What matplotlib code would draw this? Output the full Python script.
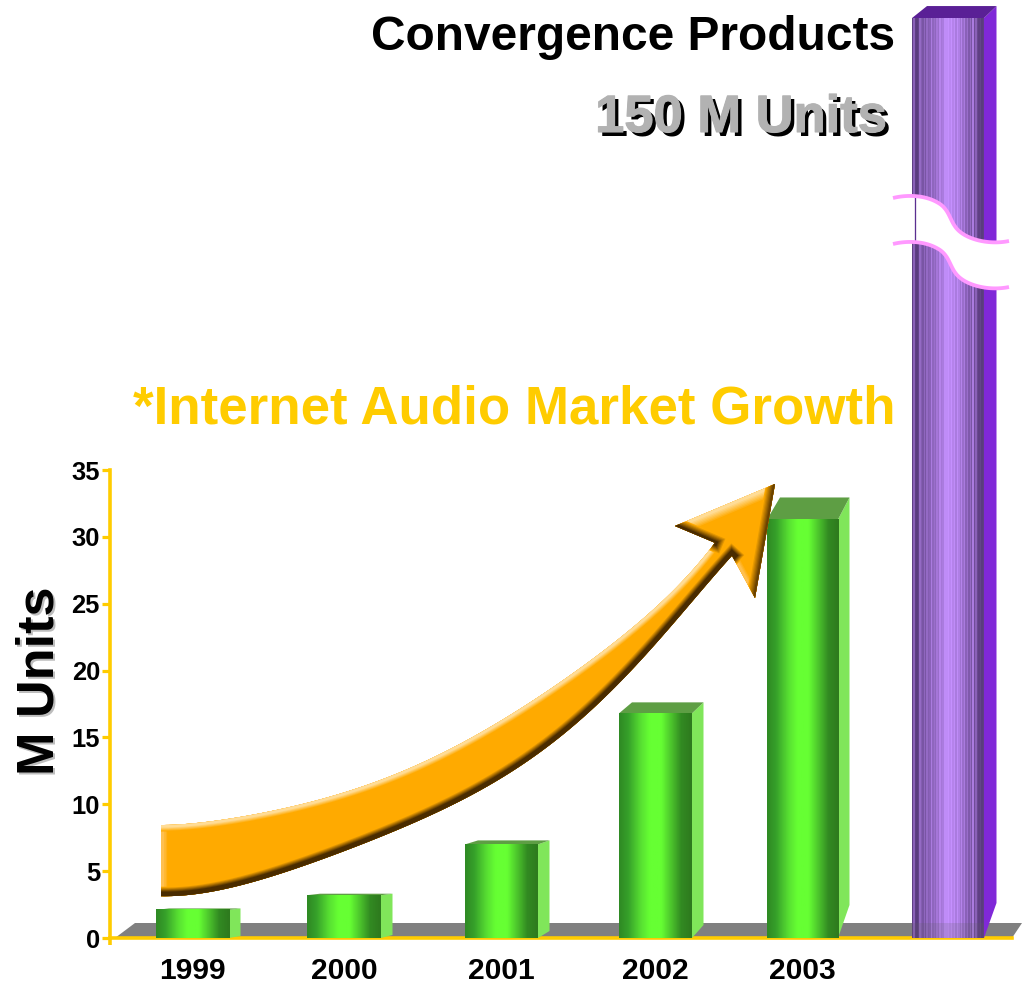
import numpy as np
import matplotlib
matplotlib.use("Agg")
import matplotlib.pyplot as plt
import matplotlib.patheffects as pe
from matplotlib.colors import LinearSegmentedColormap, to_rgb
from matplotlib.patches import Polygon
from matplotlib.lines import Line2D

plt.rcParams['font.family'] = ['Liberation Sans', 'DejaVu Sans']
plt.rcParams['font.weight'] = 'bold'

# ---- data ----
years = ['1999', '2000', '2001', '2002', '2003']
internet_audio = [2.1, 3.2, 7.0, 16.8, 31.3]
convergence_units = 150          # shown on a broken axis
convergence_break_height = 68.8  # height on the unbroken scale at which the bar top is drawn
y_ticks = [0, 5, 10, 15, 20, 25, 30, 35]

# ---- layout (pixels of the 1022x984 canvas) ----
W, H = 1022, 984
AX_L, AX_R, AX_BASE, AX_TOP = 110, 1012, 938, 470
bar_left = [156, 307, 465, 619, 767]
bar_widths = [73, 74, 73, 73, 71]
purple_left = 912
purple_width = 72
depth_rise = [1.5, 1.5, 4, 11, 22]
side_back_bottom = [936, 935, 931, 925, 905]
depth_x = 11.5

fig = plt.figure(figsize=(W / 100, H / 100), dpi=100, facecolor='white')
ax = fig.add_axes([AX_L / W, (H - AX_BASE) / H, (AX_R - AX_L) / W, (AX_BASE - AX_TOP) / H])
ax.patch.set_alpha(0)
PX_PER_UNIT = (AX_BASE - AX_TOP) / 35


def yd(py):
    return (AX_BASE - np.asarray(py, float)) / PX_PER_UNIT


def pts(seq):
    a = np.asarray(seq, float)
    return np.column_stack([a[:, 0], yd(a[:, 1])])


def px(n):
    return n * 0.72


def bez(*p):
    out = []
    p = np.asarray(p, float)
    t = np.linspace(0, 1, 30)[:, None]
    for i in range(0, len(p) - 1, 3):
        a, b, c, d = p[i:i + 4]
        out.append((1 - t) ** 3 * a + 3 * (1 - t) ** 2 * t * b + 3 * (1 - t) * t ** 2 * c + t ** 3 * d)
    return np.vstack(out)


def smooth_edge(points, deg=6):
    a = np.asarray(points, float)
    u = (a[:, 0] - a[0, 0]) / (a[-1, 0] - a[0, 0])
    coef = np.polyfit(u, a[:, 1], deg)
    uu = np.linspace(0, 1, 160)
    return np.column_stack([a[0, 0] + uu * (a[-1, 0] - a[0, 0]), np.polyval(coef, uu)])


def ramp(c_from, c_to, wmax, wmin, n):
    c0, c1 = np.array(to_rgb(c_from)), np.array(to_rgb(c_to))
    return [(tuple(c0 + (c1 - c0) * i / (n - 1)), wmax + (wmin - wmax) * i / (n - 1)) for i in range(n)]


green_cmap = LinearSegmentedColormap.from_list('g', [
    (0, '#2F8A24'), (0.12, '#36A02A'), (0.30, '#58E032'), (0.42, '#66FF33'),
    (0.58, '#66FF33'), (0.72, '#4CC42C'), (0.86, '#328A22'), (1, '#2E7A1E')])
purple_cmap = LinearSegmentedColormap.from_list('p', ['#5A3C7E', '#C590FF'])
stripes = [0.05, 0.45, 0.05, 0.0, 0.1, 0.55, 0.4, 0.3, 0.5, 0.3, 0.55, 0.4, 0.45, 0.75, 0.5, 0.6, 0.5,
           0.7, 0.6, 0.85, 0.7, 0.75, 0.95, 0.95, 0.95, 1.0, 0.9, 1.0, 0.85, 0.95, 0.75, 0.95, 0.8,
           0.65, 0.85, 0.6, 0.75, 0.45, 0.6, 0.35, 0.55, 0.3, 0.75, 0.2, 0.45, 0.15, 0.05, 0.1, 0.0, 0.05]

# floor
ax.add_patch(Polygon(pts([(115, 938), (135, 923), (1022, 923), (1012, 938)]),
                     closed=True, fc='#808080', ec='none', zorder=0.5, clip_on=False))

# green bars
for left, bw, val, rise, bk in zip(bar_left, bar_widths, internet_audio, depth_rise, side_back_bottom):
    right = left + bw
    top_px = AX_BASE - val * PX_PER_UNIT
    ax.add_patch(Polygon(pts([(right, top_px), (right + depth_x, top_px - rise),
                              (right + depth_x, bk), (right, AX_BASE)]),
                         closed=True, fc='#80E65A', ec='none', zorder=3, clip_on=False))
    ax.add_patch(Polygon(pts([(left, top_px), (left + depth_x + 1.5, top_px - rise),
                              (right + depth_x, top_px - rise), (right, top_px)]),
                         closed=True, fc='#5E9E44', ec='none', zorder=3, clip_on=False))
    ax.imshow(np.linspace(0, 1, 80)[None, :], cmap=green_cmap, aspect='auto',
              extent=(left, right, 0, val), zorder=4, clip_on=False)

# purple broken bar
p_right = purple_left + purple_width
p_top = AX_BASE - convergence_break_height * PX_PER_UNIT
ax.add_patch(Polygon(pts([(p_right, p_top), (p_right + 12.5, p_top - 12),
                          (p_right + 12.5, 903), (p_right, AX_BASE)]),
                     closed=True, fc='#8028D8', ec='none', zorder=3, clip_on=False))
ax.add_patch(Polygon(pts([(purple_left, p_top), (purple_left + 15, p_top - 12),
                          (p_right + 12.5, p_top - 12), (p_right, p_top)]),
                     closed=True, fc='#5A2096', ec='none', zorder=3, clip_on=False))
ax.imshow(np.array(stripes)[None, :], cmap=purple_cmap, vmin=0, vmax=1, aspect='auto',
          interpolation='nearest',
          extent=(purple_left, p_right, 0, convergence_break_height), zorder=4, clip_on=False)
ax.add_patch(Polygon(pts([(purple_left, 923), (p_right, 923), (p_right, 938), (purple_left, 938)]),
                     closed=True, fc='#606060', ec='none', alpha=0.18, zorder=4.2, clip_on=False))

# axis break
upper = bez((893, 198), (905, 195), (925, 194), (940, 204),
            (950, 211), (950, 222), (958, 230),
            (968, 240), (990, 245), (1009, 241))
lower = upper + np.array([0, 46])
ax.add_patch(Polygon(pts(np.vstack([upper, lower[::-1]])), closed=True, fc='white', ec='none',
                     zorder=5, clip_on=False))
for c in (upper, lower):
    d = pts(c)
    ax.plot(d[:, 0], d[:, 1], color='#FF99FF', lw=px(3.8), zorder=5.5, clip_on=False,
            solid_capstyle='butt')
ax.plot([914.5, 914.5], yd([197, 243]), color='#5A2F90', lw=px(1.3), zorder=5.2, clip_on=False)

# growth arrow
top_edge = smooth_edge([(161, 825), (185, 824), (215, 821), (270, 811), (320, 800), (370, 783),
                        (453, 749), (530, 700), (570, 677), (630, 630), (663, 600), (707, 553),
                        (715, 543)])
bottom_edge = smooth_edge([(161, 897), (175, 896), (190, 893), (230, 888), (270, 878), (310, 865),
                           (350, 847), (450, 805), (550, 749), (590, 710), (630, 667), (670, 630),
                           (697, 597), (727, 561), (732, 555)])
barb_l = (675, 526)
tip = (775, 484)
barb_r = (755, 598)
outline = np.vstack([top_edge, [barb_l, tip, barb_r], bottom_edge[::-1]])
arrow = Polygon(pts(outline), closed=True, fc='#FFAA00', ec='none', zorder=7, clip_on=False)
ax.add_patch(arrow)


def rim(points, colors_widths):
    d = pts(points)
    for col, w in colors_widths:
        ln = Line2D(d[:, 0], d[:, 1], color=col, lw=px(w), zorder=7.5,
                    solid_capstyle='projecting', solid_joinstyle='round')
        ax.add_line(ln)
        ln.set_clip_path(arrow)


ORANGE = '#FFAA00'
rim([(161, 897), (161, 825)], ramp(ORANGE, '#FFC050', 14, 6, 4))
rim(top_edge, ramp(ORANGE, '#FFDC96', 13, 5, 6))
rim([barb_l, tip], ramp(ORANGE, '#FFDC96', 22, 6, 7))
rim([(732, 555), barb_r], ramp(ORANGE, '#FFC050', 12, 5, 4))
rim([(715, 543), barb_l], ramp(ORANGE, '#4A2C00', 18, 5, 7))
rim([tip, barb_r], ramp(ORANGE, '#6A4200', 18, 4, 7))
rim(bottom_edge, ramp(ORANGE, '#4A2C00', 19, 9, 7))

# axes
ax.set_xlim(AX_L, AX_R)
ax.set_ylim(0, 35)
ax.set_aspect('auto')
for s in ('top', 'right'):
    ax.spines[s].set_visible(False)
for s in ('left', 'bottom'):
    ax.spines[s].set_color('#FFCC00')
    ax.spines[s].set_linewidth(px(3.6))
ax.plot([AX_L, AX_L], [0, yd(945)], color='#FFCC00', lw=px(3.6), clip_on=False, zorder=2.5,
        solid_capstyle='butt')
ax.set_yticks(y_ticks)
ax.tick_params(axis='y', length=px(8), width=px(3.2), color='#FFCC00', pad=px(2),
               labelsize=18.4, labelcolor='black')
ax.set_xticks([l + w / 2 for l, w in zip(bar_left, bar_widths)])
ax.set_xticklabels(years)
ax.tick_params(axis='x', length=0, pad=px(19), labelsize=21.6, labelcolor='black')
for t in ax.get_xticklabels() + ax.get_yticklabels():
    t.set_fontweight('bold')


def ftext(x, y, s, **kw):
    return fig.text(x / W, 1 - y / H, s, fontweight='bold', **kw)


ftext(895, 50, 'Convergence Products', fontsize=34.5, color='black', ha='right', va='baseline')
ftext(891, 136, '150 M Units', fontsize=37.8, color='black', ha='right', va='baseline', zorder=10)
shade = ftext(887, 132, '150 M Units', fontsize=37.8, color='#B2B2B2', ha='right', va='baseline', zorder=11)
shade.set_path_effects([pe.withStroke(linewidth=0.8, foreground='#B2B2B2')])
ftext(895.5, 424, '*Internet Audio Market Growth', fontsize=38.1, color='#FFCC00', ha='right', va='baseline')
ftext(55, 777, 'M Units', fontsize=37.6, color='#BDBDBD', rotation=90, ha='left', va='baseline',
      rotation_mode='anchor', zorder=10)
ftext(53, 775, 'M Units', fontsize=37.6, color='black', rotation=90, ha='left', va='baseline',
      rotation_mode='anchor', zorder=11)

fig.savefig('out.png', dpi=100, facecolor='white')
